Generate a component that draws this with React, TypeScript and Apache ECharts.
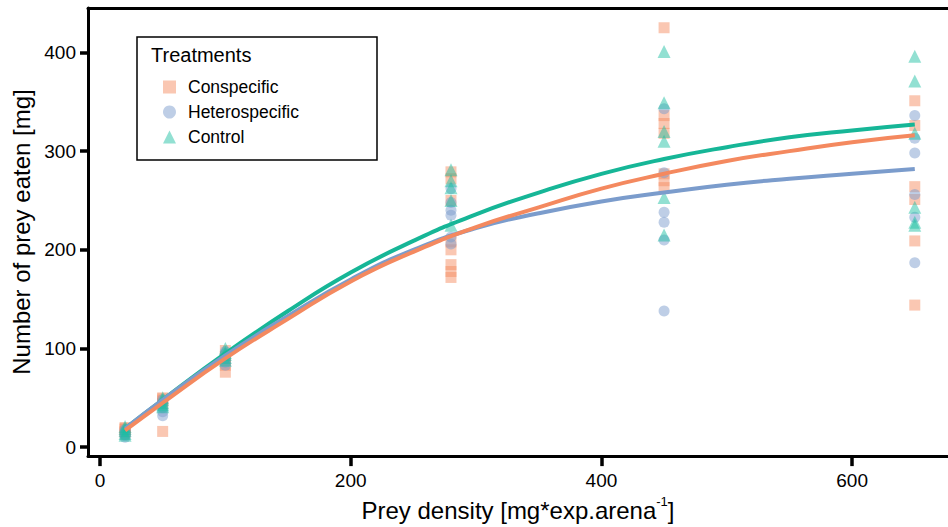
import React, { useEffect, useRef } from "react";
import * as echarts from "echarts";

// Observed data: prey density levels and amount eaten per replicate
const densities = [20, 50, 100, 280, 450, 650];

const conspecificEaten = [
  [20, 18, 16, 19, 15],
  [50, 47, 44, 16, 49],
  [98, 88, 83, 76, 92],
  [279, 272, 250, 208, 200, 185, 178, 172],
  [425, 336, 328, 318, 277, 270, 263],
  [351, 326, 264, 251, 209, 144],
];
const heterospecificEaten = [
  [13, 10, 16, 18, 12],
  [32, 36, 45, 40, 48],
  [95, 83, 90, 86, 97],
  [262, 248, 240, 235, 213, 206],
  [343, 278, 238, 228, 210, 138],
  [336, 313, 298, 256, 233, 187],
];
const controlEaten = [
  [21, 17, 14, 19, 12],
  [48, 41, 45, 50, 43],
  [100, 96, 91, 88, 94],
  [281, 270, 263, 250, 225],
  [401, 349, 320, 310, 253, 215],
  [396, 371, 318, 243, 228, 225],
];

// Fitted curves
const fitX = [20, 50, 100, 150, 200, 250, 300, 350, 400, 450, 500, 550, 600, 650];
const fitConspecific = [17, 45, 90, 130, 168, 198, 223, 243, 262, 277, 290, 300, 309, 316];
const fitHeterospecific = [19, 48, 93, 133, 170, 200, 222, 237, 249, 258, 266, 272, 277, 282];
const fitControl = [19, 48, 95, 138, 177, 209, 236, 258, 277, 292, 304, 314, 321, 327];

const treatmentNames = ["Conspecific", "Heterospecific", "Control"];
const xTicks = [0, 200, 400, 600];
const yTicks = [0, 100, 200, 300, 400];

const FONT = "Arial, 'Liberation Sans', sans-serif";

function toPoints(groups: number[][]) {
  const pts: number[][] = [];
  groups.forEach((vals, i) => vals.forEach((v) => pts.push([densities[i], v])));
  return pts;
}
function toLine(ys: number[]) {
  return fitX.map((x, i) => [x, ys[i]]);
}

export default function App() {
  const ref = useRef<HTMLDivElement>(null);
  useEffect(() => {
    if (!ref.current) return;
    const chart = echarts.init(ref.current, null, { renderer: "svg" });
    const colors = {
      con: { line: "#F4895F", mark: "rgba(244,137,95,0.6)" },
      het: { line: "#7B9CCC", mark: "rgba(123,156,204,0.62)" },
      ctl: { line: "#16B697", mark: "rgba(27,190,160,0.6)" },
    };
    const axisBlack = { color: "#000", width: 3 };
    chart.setOption({
      animation: false,
      backgroundColor: "#fff",
      grid: { left: 88, right: 0, top: 8, bottom: 65, containLabel: false },
      xAxis: [
        {
          type: "value",
          min: -9.57,
          max: 676.5,
          position: "bottom",
          splitLine: { show: false },
          axisLine: { show: true, onZero: false, lineStyle: axisBlack },
          axisTick: { show: true, customValues: xTicks, length: 10, lineStyle: { color: "#000", width: 3.5 } },
          axisLabel: { customValues: xTicks, fontSize: 19, color: "#000", margin: 15, fontFamily: FONT },
          name: "Prey density [mg*exp.arena{sup|-1}]",
          nameLocation: "middle",
          nameGap: 35,
          nameTextStyle: {
            fontSize: 24,
            color: "#000",
            fontFamily: FONT,
            rich: { sup: { fontSize: 13, verticalAlign: "top", lineHeight: 30, color: "#000", fontFamily: FONT } },
          },
        },
        {
          type: "value",
          min: -9.57,
          max: 676.5,
          position: "top",
          splitLine: { show: false },
          axisLine: { show: true, onZero: false, lineStyle: axisBlack },
          axisTick: { show: false },
          axisLabel: { show: false },
        },
      ],
      yAxis: {
        type: "value",
        min: -9,
        max: 445,
        splitLine: { show: false },
        axisLine: { show: true, onZero: false, lineStyle: axisBlack },
        axisTick: { show: true, customValues: yTicks, length: 8, lineStyle: { color: "#000", width: 3.5 } },
        axisLabel: { customValues: yTicks, fontSize: 19, color: "#000", margin: 12, fontFamily: FONT },
        name: "Number of prey eaten [mg]",
        nameLocation: "middle",
        nameGap: 55,
        nameRotate: 90,
        nameTextStyle: { fontSize: 24, color: "#000", fontFamily: FONT },
      },
      legend: {
        data: treatmentNames,
        orient: "vertical",
        left: 158,
        top: 73,
        itemWidth: 13,
        itemHeight: 13,
        itemGap: 7,
        z: 10,
        textStyle: { fontSize: 17.5, color: "#000", fontFamily: FONT, padding: [0, 0, 0, 7], lineHeight: 17 },
      },
      graphic: [
        {
          type: "rect",
          z: 5,
          shape: { x: 137, y: 37, width: 240, height: 123 },
          style: { fill: "#fff", stroke: "#000", lineWidth: 1.5 },
        },
        {
          type: "text",
          z: 6,
          x: 151,
          y: 55,
          style: { text: "Treatments", fontSize: 20, fill: "#000", fontFamily: FONT, verticalAlign: "middle" },
        },
      ],
      series: [
        {
          name: "Conspecific",
          type: "scatter",
          symbol: "rect",
          symbolSize: 11,
          itemStyle: { color: colors.con.mark },
          data: toPoints(conspecificEaten),
          z: 2,
        },
        {
          name: "Heterospecific",
          type: "scatter",
          symbol: "circle",
          symbolSize: 11,
          itemStyle: { color: colors.het.mark },
          data: toPoints(heterospecificEaten),
          z: 2,
        },
        {
          name: "Control",
          type: "scatter",
          symbol: "triangle",
          symbolSize: 13,
          itemStyle: { color: colors.ctl.mark },
          data: toPoints(controlEaten),
          z: 2,
        },
        {
          name: "Control fit",
          type: "line",
          smooth: true,
          showSymbol: false,
          lineStyle: { color: colors.ctl.line, width: 4 },
          itemStyle: { color: colors.ctl.line },
          data: toLine(fitControl),
          z: 3,
        },
        {
          name: "Heterospecific fit",
          type: "line",
          smooth: true,
          showSymbol: false,
          lineStyle: { color: colors.het.line, width: 4 },
          itemStyle: { color: colors.het.line },
          data: toLine(fitHeterospecific),
          z: 3,
        },
        {
          name: "Conspecific fit",
          type: "line",
          smooth: true,
          showSymbol: false,
          lineStyle: { color: colors.con.line, width: 4 },
          itemStyle: { color: colors.con.line },
          data: toLine(fitConspecific),
          z: 3,
        },
      ],
    });
    return () => chart.dispose();
  }, []);
  return (
    <div
      ref={ref}
      style={{ position: "absolute", left: 0, top: 0, width: 948, height: 527, background: "#fff" }}
    />
  );
}
